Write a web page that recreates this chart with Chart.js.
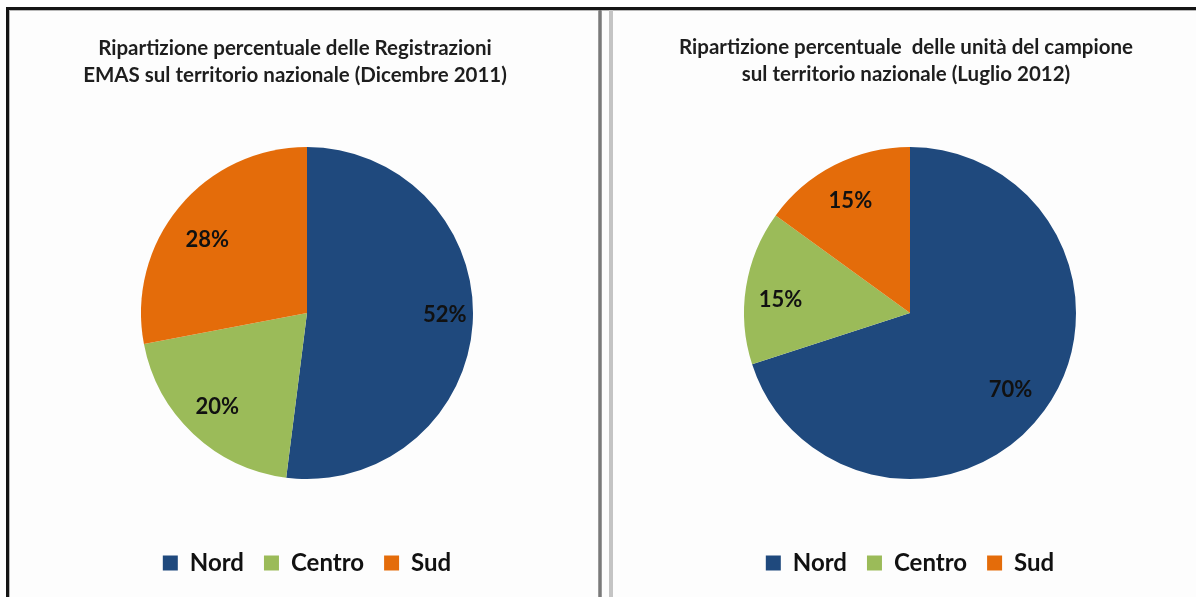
<!DOCTYPE html>
<html>
<head>
<meta charset="utf-8">
<script src="https://cdn.jsdelivr.net/npm/chart.js@4.4.1/dist/chart.umd.min.js"></script>
<style>
  html, body { margin: 0; padding: 0; background: #ffffff; width: 1196px; height: 597px; overflow: hidden; }
  .ln { position: absolute; }
  canvas { position: absolute; }
  #bg { position: absolute; left: 9px; top: 10px; width: 1187px; height: 587px; background: #fdfdfd; }
</style>
</head>
<body>
<div id="bg"></div>
<div class="ln" style="left:6px;top:7px;width:1190px;height:3px;background:#151515"></div>
<div class="ln" style="left:9px;top:10px;width:1187px;height:1px;background:#b8b8b8"></div>
<div class="ln" style="left:6px;top:7px;width:3px;height:590px;background:#151515"></div>
<div class="ln" style="left:9px;top:10px;width:1px;height:587px;background:#b8b8b8"></div>
<div class="ln" style="left:598px;top:10px;width:4px;height:587px;background:#9a9a9a"></div>
<div class="ln" style="left:599px;top:10px;width:2px;height:587px;background:#7a7a7a"></div>
<div class="ln" style="left:609px;top:10px;width:4px;height:587px;background:#c4c4c4"></div>
<canvas id="c1" width="587" height="586" style="left:11px;top:11px;width:587px;height:586px"></canvas>
<canvas id="c2" width="583" height="586" style="left:613px;top:11px;width:583px;height:586px"></canvas>
<script>
// ---- data ----
const categories = ['Nord', 'Centro', 'Sud'];
const emas2011 = [52, 20, 28];
const campione2012 = [70, 15, 15];
const title2011 = ['Ripartizione percentuale delle Registrazioni', 'EMAS sul territorio nazionale (Dicembre 2011)'];
const title2012 = ['Ripartizione percentuale  delle unità del campione', 'sul territorio nazionale (Luglio 2012)'];

const colors = ['#1F497D', '#9BBB59', '#E46C0A'];
const FONT = 'Lato, "Open Sans", sans-serif';

const panelTitle = {
  id: 'panelTitle',
  afterDraw(chart, args, opts) {
    const ctx = chart.ctx;
    ctx.save();
    ctx.font = 'bold ' + opts.size + 'px ' + FONT;
    ctx.fillStyle = '#1e1e1e';
    ctx.textAlign = 'center';
    ctx.textBaseline = 'middle';
    opts.lines.forEach((t, i) => ctx.fillText(t, opts.x, opts.y + i * opts.lineHeight));
    ctx.restore();
  }
};

// label placement: [fraction of radius, angular shift in degrees] per slice (style only)
const sliceLabels = {
  id: 'sliceLabels',
  afterDatasetsDraw(chart, args, opts) {
    const ctx = chart.ctx;
    const meta = chart.getDatasetMeta(0);
    const values = chart.data.datasets[0].data;
    ctx.save();
    ctx.font = 'bold 22px ' + FONT;
    ctx.fillStyle = '#111111';
    ctx.textAlign = 'center';
    ctx.textBaseline = 'middle';
    meta.data.forEach((arc, i) => {
      const p = arc.getProps(['x', 'y', 'startAngle', 'endAngle', 'outerRadius'], true);
      const [f, d] = opts.pos[i];
      const a = (p.startAngle + p.endAngle) / 2 + d * Math.PI / 180;
      ctx.fillText(values[i] + '%', p.x + Math.cos(a) * p.outerRadius * f, p.y + Math.sin(a) * p.outerRadius * f + 1);
    });
    ctx.restore();
  }
};

function makePie(id, values, titleLines, titleX, titleY, padL, padR, pos) {
  return new Chart(document.getElementById(id), {
    type: 'pie',
    data: {
      labels: categories,
      datasets: [{
        data: values,
        backgroundColor: colors,
        borderWidth: 0,
        hoverOffset: 0,
        radius: 166
      }]
    },
    options: {
      responsive: false,
      animation: false,
      events: [],
      layout: { padding: { top: 84, bottom: 12, left: padL, right: padR } },
      plugins: {
        tooltip: { enabled: false },
        title: { display: false },
        legend: {
          display: true,
          position: 'bottom',
          labels: {
            color: '#111111',
            font: { family: FONT, size: 24, weight: 'bold' },
            boxWidth: 15,
            boxHeight: 15,
            padding: 20
          }
        },
        panelTitle: { lines: titleLines, x: titleX, y: titleY, size: 20.5, lineHeight: 27 },
        sliceLabels: { pos: pos }
      }
    },
    plugins: [panelTitle, sliceLabels]
  });
}

makePie('c1', emas2011, title2011, 284, 37, 5, 0, [[0.83, -3.2], [0.78, 0.7], [0.75, -2.8]]);
makePie('c2', campione2012, title2012, 293, 36, 11, 0, [[0.76, 1.1], [0.785, -2.6], [0.77, -0.8]]);
</script>
</body>
</html>
